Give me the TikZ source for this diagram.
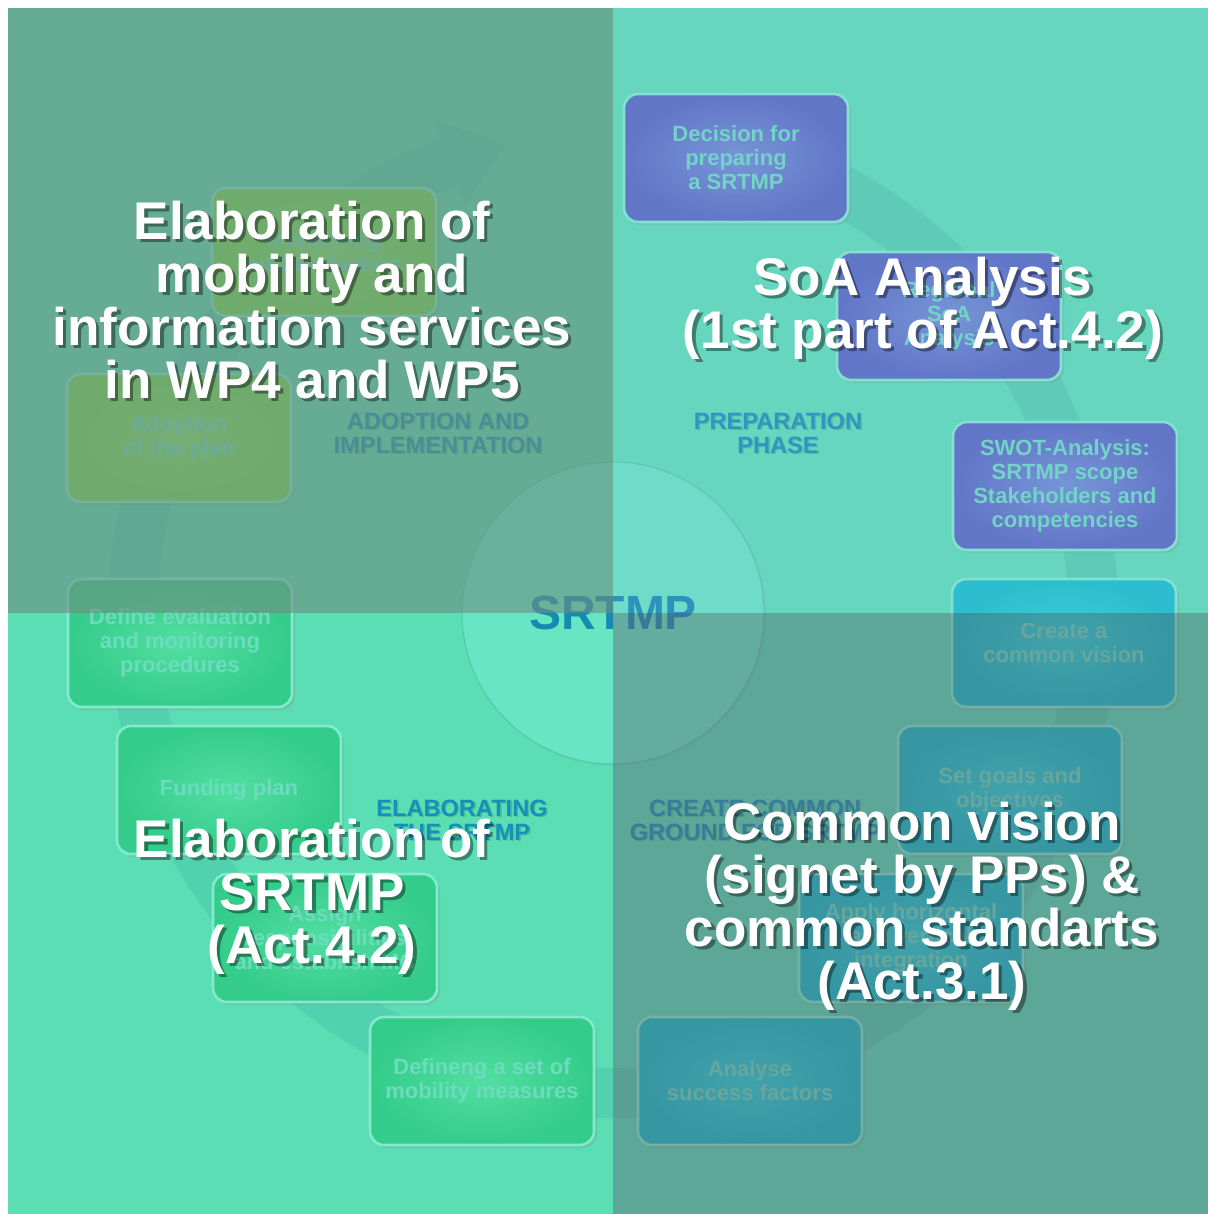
\documentclass[tikz,border=0pt]{standalone}
\usepackage{fontspec}
\setmainfont{Liberation Sans}
\usetikzlibrary{shadows}

% palette
\definecolor{bgbase}{RGB}{92,222,180}
\definecolor{ringc}{RGB}{40,150,150}
\definecolor{hubfill}{RGB}{104,230,196}
\definecolor{hubedge}{RGB}{80,200,170}
\definecolor{hubtext}{RGB}{20,140,178}
\definecolor{labelc}{RGB}{20,145,185}
\definecolor{cardedge}{RGB}{130,235,205}
\definecolor{cardtext}{RGB}{108,220,190}
\definecolor{prepin}{RGB}{112,142,212}
\definecolor{prepout}{RGB}{88,102,192}
\definecolor{commin}{RGB}{40,212,216}
\definecolor{commout}{RGB}{20,192,200}
\definecolor{elabin}{RGB}{82,222,162}
\definecolor{elabout}{RGB}{52,204,138}
\definecolor{adoptin}{RGB}{130,226,100}
\definecolor{adoptout}{RGB}{114,218,80}
\definecolor{shadeTL}{RGB}{109,140,127}
\definecolor{shadeTR}{RGB}{142,182,230}
\definecolor{shadeBR}{RGB}{96,102,118}

\begin{document}
\begin{tikzpicture}[x=0.5pt,y=-0.5pt,
  card/.style={rounded corners=7pt, minimum width=112pt, minimum height=64pt,
    line width=1.3pt, draw=cardedge, align=center, text=cardtext,
    font=\bfseries\fontsize{11}{12}\selectfont,
    drop shadow={shadow xshift=1.5pt, shadow yshift=-1.5pt, opacity=0.22}},
  prep/.style={card, inner color=prepin, outer color=prepout},
  comm/.style={card, inner color=commin, outer color=commout},
  elab/.style={card, inner color=elabin, outer color=elabout},
  adopt/.style={card, inner color=adoptin, outer color=adoptout},
  hub/.style={circle, minimum size=151pt, fill=hubfill, draw=hubedge,
    line width=0.5pt, text=hubtext, font=\bfseries\fontsize{24}{24}\selectfont,
    drop shadow={shadow xshift=1pt, shadow yshift=-1pt, opacity=0.12}},
  phase/.style={align=center, text=labelc, font=\bfseries\fontsize{11.8}{12}\selectfont},
  phaseshade/.style={phase, text=black, opacity=0.15, xshift=0.8pt, yshift=-0.8pt},
  big/.style={align=center, text=white, font=\bfseries\fontsize{26.5}{26.5}\selectfont},
  bigshade/.style={big, text=black, opacity=0.4, xshift=1.6pt, yshift=-1.6pt},
]
\useasboundingbox (0,0) rectangle (1208,1214);
\fill[white] (0,0) rectangle (1208,1214);
\fill[bgbase] (8,8) rectangle (1208,1214);

% circular process arrow
\coordinate (c) at (613,613);
\fill[ringc, opacity=0.18]
  ([shift={(c)}]-80:505) arc[start angle=-80, end angle=250, radius=505]
  -- ([shift={(c)}]250:527) -- ([shift={(c)}]257:480)
  -- ([shift={(c)}]250:433) -- ([shift={(c)}]250:455)
  arc[start angle=250, end angle=-80, radius=455] -- cycle;

% centre
\node[hub] (hub) at (613,613) {SRTMP};

% phase labels
\node[phaseshade] (ph1s) at (438,433) {ADOPTION AND\\IMPLEMENTATION};
\node[phase]      (ph1)  at (438,433) {ADOPTION AND\\IMPLEMENTATION};
\node[phaseshade] (ph2s) at (778,433) {PREPARATION\\PHASE};
\node[phase]      (ph2)  at (778,433) {PREPARATION\\PHASE};
\node[phaseshade] (ph3s) at (462,820) {ELABORATING\\THE SRTMP};
\node[phase]      (ph3)  at (462,820) {ELABORATING\\THE SRTMP};
\node[phaseshade] (ph4s) at (755,820) {CREATE COMMON\\GROUND FOR SRTMP};
\node[phase]      (ph4)  at (755,820) {CREATE COMMON\\GROUND FOR SRTMP};

% process steps
\node[prep]  (dec)    at (736,158)  {Decision for\\preparing\\a SRTMP};
\node[prep]  (reg)    at (949,316)  {Regional\\SoA\\Analysis};
\node[prep]  (swot)   at (1065,486) {SWOT-Analysis:\\SRTMP scope\\Stakeholders and\\competencies};
\node[comm]  (vis)    at (1064,643) {Create a\\common vision};
\node[comm]  (goals)  at (1010,790) {Set goals and\\objectives};
\node[comm]  (hor)    at (911,938)  {Apply horizontal\\and vertical\\integration};
\node[comm]  (succ)   at (750,1081) {Analyse\\success factors};
\node[elab]  (meas)   at (482,1081) {Defineng a set of\\mobility measures};
\node[elab]  (assign) at (325,938)  {Assign\\responsibilities\\and establish MC};
\node[elab]  (fund)   at (229,790)  {Funding plan};
\node[elab]  (evalu)  at (180,643)  {Define evaluation\\and monitoring\\procedures};
\node[adopt] (adp)    at (179,438)  {Adoption\\of the plan};
\node[adopt] (mon)    at (324,252)  {Monitoring\\and evaluation};

% quadrant veils
\fill[shadeTL, opacity=0.6]  (8,8) rectangle (613,613);
\fill[shadeTR, opacity=0.2]  (613,8) rectangle (1208,613);
\fill[shadeBR, opacity=0.45] (613,613) rectangle (1208,1214);

% captions
\node[bigshade] (q1s) at (312,300) {Elaboration of\\mobility and\\information services\\in WP4 and WP5};
\node[big]      (q1)  at (312,300) {Elaboration of\\mobility and\\information services\\in WP4 and WP5};
\node[bigshade] (q2s) at (923,308) {SoA Analysis\\(1st part of Act.4.2)};
\node[big]      (q2)  at (923,308) {SoA Analysis\\(1st part of Act.4.2)};
\node[bigshade] (q3s) at (312,897) {Elaboration of\\SRTMP\\(Act.4.2)};
\node[big]      (q3)  at (312,897) {Elaboration of\\SRTMP\\(Act.4.2)};
\node[bigshade] (q4s) at (922,906) {Common vision\\(signet by PPs) \&\\common standarts\\(Act.3.1)};
\node[big]      (q4)  at (922,906) {Common vision\\(signet by PPs) \&\\common standarts\\(Act.3.1)};
\end{tikzpicture}
\end{document}
